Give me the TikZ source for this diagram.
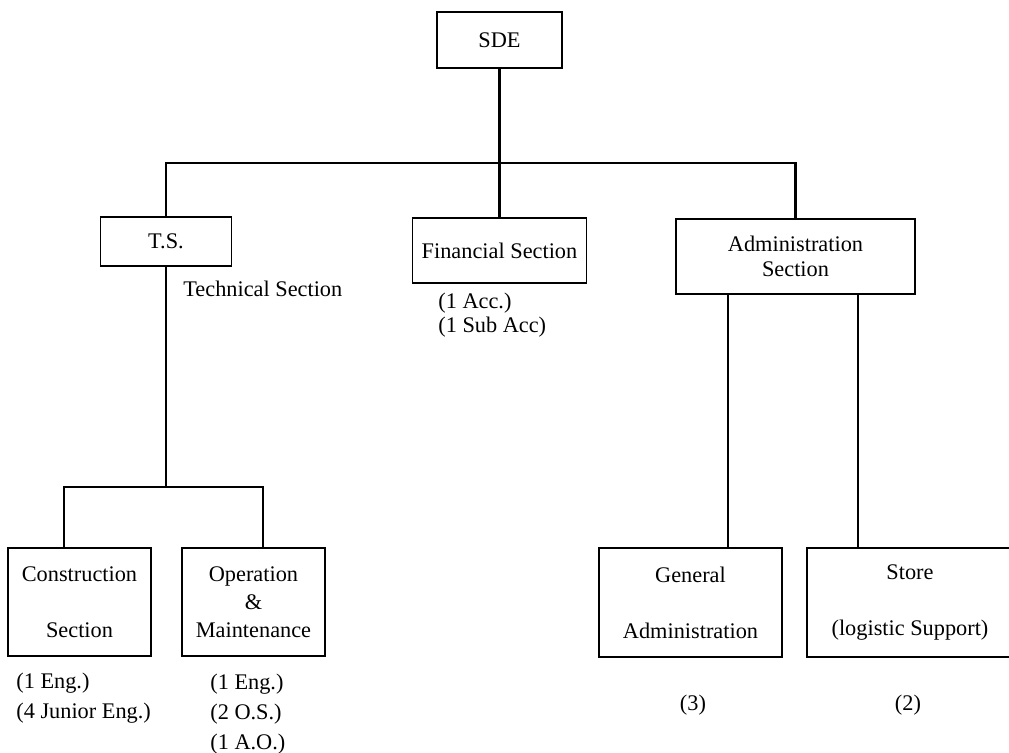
\documentclass[tikz,border=0pt]{standalone}
\usepackage{fontspec}
\setmainfont{Liberation Serif}
\begin{document}
\begin{tikzpicture}[x=0.02cm, y=-0.02cm,
        every node/.style={inner sep=0pt, font=\fontsize{12.7}{15.9}\selectfont},
        box/.style={draw, rectangle, line width=1.1pt, align=center},
        lbl/.style={anchor=west, align=left},
        link/.style={line width=1.5pt, line join=miter}]
        \useasboundingbox (0,0) rectangle (1009,752);
        % boxes
        \node[box, minimum width=2.5cm, minimum height=1.12cm] (SDE) at (499.5,40) {SDE};
        \node[box, minimum width=2.62cm, minimum height=0.98cm] (TS) at (166,241.5) {T.S.};
        \node[box, minimum width=3.48cm, minimum height=1.3cm] (Fin) at (499.5,250.5) {Financial Section};
        \node[box, minimum width=4.78cm, minimum height=1.5cm, font=\fontsize{12.7}{14.5}\selectfont] (Adm) at (795.5,256.5) {Administration\\Section};
        \node[box, minimum width=2.86cm, minimum height=2.16cm] (Cons) at (79.5,602) {Construction\\[15.9pt]Section};
        \node[box, minimum width=2.86cm, minimum height=2.16cm] (Op) at (253.5,602) {Operation\\\&\\Maintenance};
        \node[box, minimum width=3.66cm, minimum height=2.18cm] (Gen) at (690.5,602.5) {General\\[15.9pt]Administration};
        \node[box, minimum width=4.12cm, minimum height=2.18cm] (Store) at (910,602.5) {Store\\[15.9pt](logistic Support)};
        % staff labels
        \node[lbl] (tech) at (183,289) {Technical Section};
        \node[lbl, font=\fontsize{12.7}{13.6}\selectfont] (finlbl) at (438,315) {(1 Acc.)\\(1 Sub Acc)};
        \node[lbl, font=\fontsize{12.7}{17}\selectfont] (conslbl) at (16,698) {(1 Eng.)\\(4 Junior Eng.)};
        \node[lbl, font=\fontsize{12.7}{17}\selectfont] (oplbl) at (210,714) {(1 Eng.)\\(2 O.S.)\\(1 A.O.)};
        \node (genlbl) at (693,705) {(3)};
        \node (storelbl) at (908,705) {(2)};
        % junctions
        \coordinate (top) at (499.5,163);
        \coordinate (cl) at (64,487);
        \coordinate (cr) at (263,487);
        \coordinate (gl) at (728,400);
        \coordinate (sl) at (858,400);
        % connectors
        \draw[link] (SDE) -- (Fin);
        \draw[link] (TS.north) |- (top) -| (Adm.north);
        \draw[link] (TS.south) -- (TS.south |- cl);
        \draw[link] (Cons.north -| cl) |- (cr) -- (Op.north -| cr);
        \draw[link] (Adm.south -| gl) -- (Gen.north -| gl);
        \draw[link] (Adm.south -| sl) -- (Store.north -| sl);
    \end{tikzpicture}
\end{document}
